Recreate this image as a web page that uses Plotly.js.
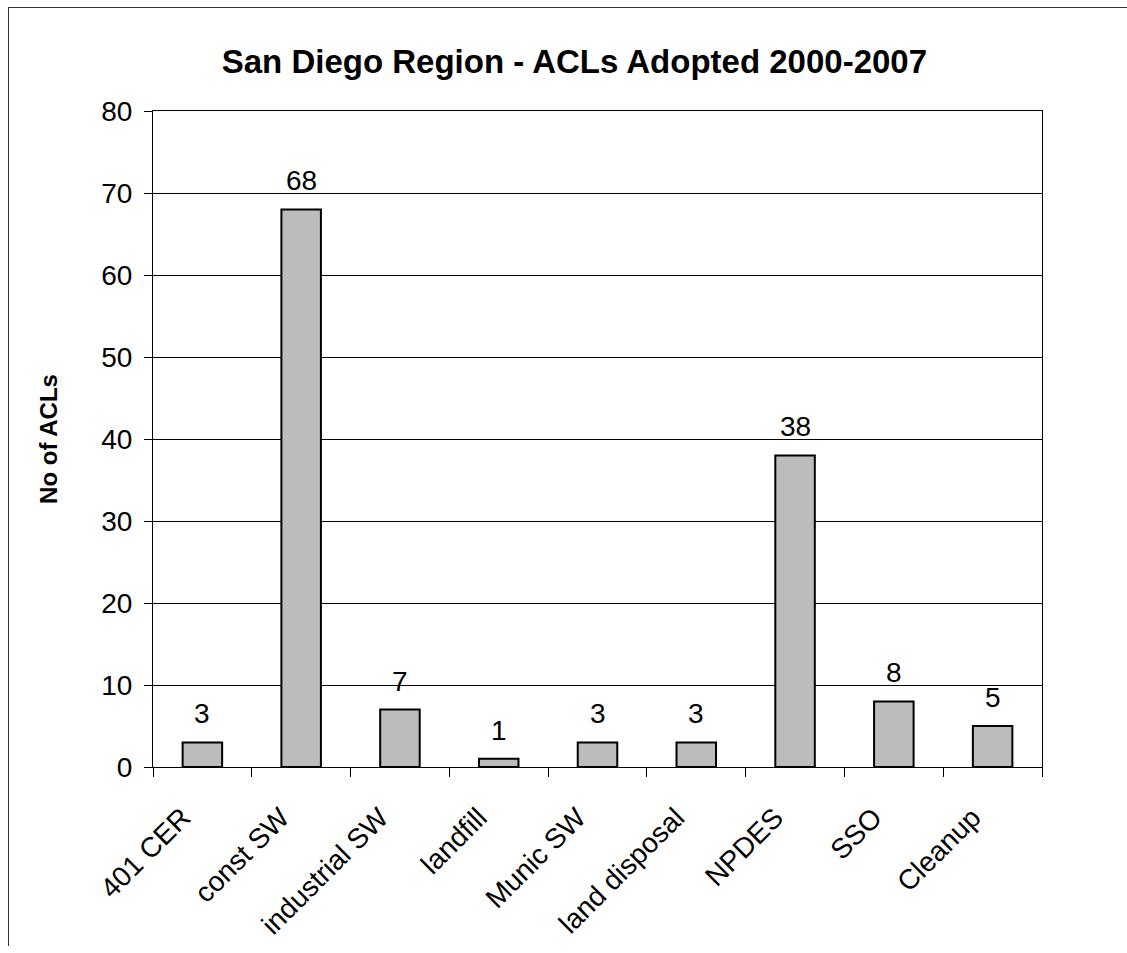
<!DOCTYPE html>
<html>
<head>
<meta charset="utf-8">
<script src="https://cdn.plot.ly/plotly-3.0.1.min.js"></script>
<style>
html,body{margin:0;padding:0;background:#fff;}
#wrap{position:relative;width:1127px;height:953px;}
#chart{width:1127px;height:953px;}
#frame{position:absolute;left:8px;top:7px;width:1130px;height:938px;border-left:1px solid #333;border-top:1px solid #333;pointer-events:none;}
</style>
</head>
<body>
<div id="wrap">
<div id="chart"></div>
<div id="frame"></div>
</div>
<script>
const categories = ["401 CER", "const SW", "industrial SW", "landfill", "Munic SW", "land disposal", "NPDES", "SSO", "Cleanup"];
const counts = [3, 68, 7, 1, 3, 3, 38, 8, 5];
const yTicks = [0, 10, 20, 30, 40, 50, 60, 70, 80];

const FONT = "Liberation Sans, Arial, sans-serif";

const trace = {
  type: "bar",
  x: categories,
  y: counts,
  width: 0.4,
  marker: { color: "#bcbcbc", line: { color: "#000", width: 2 } },
  hoverinfo: "x+y"
};

const annotations = categories.map((c, i) => ({
  x: c, y: counts[i], xref: "x", yref: "y",
  text: String(counts[i]), showarrow: false,
  yanchor: "bottom", yshift: 11,
  font: { family: FONT, size: 28, color: "#000" }
}));

const layout = {
  width: 1127, height: 953,
  margin: { l: 153, r: 85, t: 111, b: 186 },
  paper_bgcolor: "#fff", plot_bgcolor: "#fff",
  showlegend: false,
  title: {
    text: "<b>San Diego Region - ACLs Adopted 2000-2007</b>",
    x: 0.474, xref: "paper", xanchor: "center",
    y: 0.935, yref: "container", yanchor: "middle",
    font: { family: FONT, size: 33, color: "#000" }
  },
  xaxis: {
    type: "category",
    tickson: "boundaries",
    ticks: "outside", ticklen: 9, tickwidth: 1, tickcolor: "#000",
    tickangle: -45,
    ticklabelshift: -20,
    ticklabelstandoff: 22,
    automargin: false,
    tickfont: { family: FONT, size: 28, color: "#000" },
    showline: true, linecolor: "#000", linewidth: 1, mirror: true,
    showgrid: false, zeroline: false
  },
  yaxis: {
    range: [0, 80],
    tickvals: yTicks,
    ticktext: yTicks.map(String),
    ticks: "outside", ticklen: 8, tickwidth: 1, tickcolor: "#000",
    ticklabelstandoff: 6,
    automargin: false,
    tickfont: { family: FONT, size: 28, color: "#000" },
    showline: true, linecolor: "#000", linewidth: 1, mirror: true,
    showgrid: true, gridcolor: "#000", gridwidth: 1,
    zeroline: false,
    title: {
      text: "<b>No of ACLs</b>",
      standoff: 36,
      font: { family: FONT, size: 24, color: "#000" }
    }
  },
  annotations: annotations
};

Plotly.newPlot("chart", [trace], layout, { displayModeBar: false, staticPlot: true });
</script>
</body>
</html>
